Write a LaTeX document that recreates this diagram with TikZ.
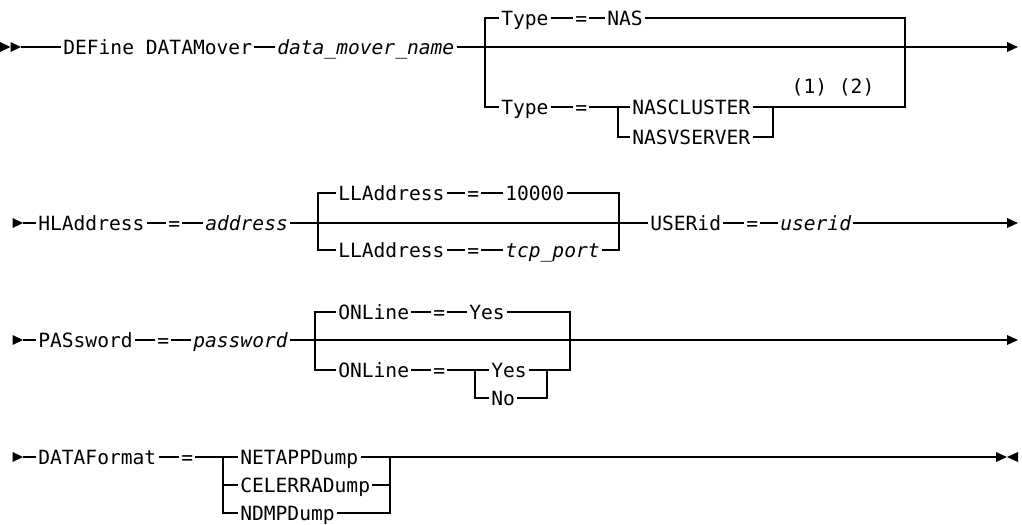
\documentclass[tikz,border=0pt]{standalone}
\usepackage{fontspec}
\setmonofont{DejaVu Sans Mono}

\begin{document}
\begin{tikzpicture}[
  x=0.75pt, y=-0.75pt,
  kw/.style={anchor=west, inner xsep=1.5pt, inner ysep=0pt, text height=10.7pt, text depth=0pt,
    font=\ttfamily\fontsize{14.7pt}{17pt}\selectfont},
  var/.style={kw, font=\ttfamily\itshape\fontsize{14.7pt}{17pt}\selectfont},
  rail/.style={draw=black, line width=0.9pt},
  tri/.style={fill=black}
]
  \useasboundingbox (0,0) rectangle (1022,525);

  % Puntas de inicio y de fin
  \fill[tri] (10.5,47) -- ++(-10.5,-5) -- ++(0,10) -- cycle;
  \fill[tri] (21,47) -- ++(-10.5,-5) -- ++(0,10) -- cycle;
  \foreach \y in {223,340,457} {
    \fill[tri] (23,\y) -- ++(-10.5,-5) -- ++(0,10) -- cycle;
  }
  \foreach \y in {47,223,340} {
    \fill[tri] (1018,\y) -- ++(-11,-5) -- ++(0,10) -- cycle;
  }
  \fill[tri] (1007,457) -- ++(-11,-5) -- ++(0,10) -- cycle;
  \fill[tri] (1007,457) -- ++(11,-5) -- ++(0,10) -- cycle;

  % Fila 1: DEFine DATAMover
  \coordinate (r1s) at (21,47);
  \coordinate (r1a) at (485,47);
  \coordinate (r1b) at (905,47);
  \coordinate (r1e) at (1008,47);
  \node[kw] (define) at (61,47) {DEFine DATAMover};
  \node[var] (dmname) at (275,47) {data\_mover\_name};
  \node[kw] (typeup) at (499,18) {Type};
  \node[kw] (equp) at (573,18) {=};
  \node[kw] (nas) at (605,18) {NAS};
  \node[kw] (typelo) at (499,107) {Type};
  \node[kw] (eqlo) at (573,107) {=};
  \coordinate (c1a) at (618,107);
  \coordinate (c1b) at (773,107);
  \node[kw] (nascl) at (630,107) {NASCLUSTER};
  \node[kw] (nasvs) at (630,137) {NASVSERVER};
  \node[kw, anchor=center] (notes) at (833,86) {(1) (2)};

  \draw[rail] (r1s) -- (define) -- (dmname) -- (r1e);
  \draw[rail] (r1a) |- (typeup) -- (equp) -- (nas) -| (r1b);
  \draw[rail] (r1a) |- (typelo) -- (eqlo) -- (c1a) -- (nascl) -- (c1b) -| (r1b);
  \draw[rail] (c1a) |- (nasvs) -| (c1b);

  % Fila 2: HLAddress, LLAddress, USERid
  \coordinate (r2s) at (23,223);
  \coordinate (r2a) at (318,223);
  \coordinate (r2b) at (619,223);
  \coordinate (r2e) at (1008,223);
  \node[kw] (hla) at (36,223) {HLAddress};
  \node[kw] (eqhla) at (166,223) {=};
  \node[var] (addr) at (203,223) {address};
  \node[kw] (llaup) at (336,193) {LLAddress};
  \node[kw] (eqllaup) at (465,193) {=};
  \node[kw] (port) at (503,193) {10000};
  \node[kw] (llalo) at (336,250) {LLAddress};
  \node[kw] (eqllalo) at (465,250) {=};
  \node[var] (tcpport) at (503,250) {tcp\_port};
  \node[kw] (usr) at (648,223) {USERid};
  \node[kw] (equsr) at (744,223) {=};
  \node[var] (userid) at (778,223) {userid};

  \draw[rail] (r2s) -- (hla) -- (eqhla) -- (addr) -- (usr) -- (equsr) -- (userid) -- (r2e);
  \draw[rail] (r2a) |- (llaup) -- (eqllaup) -- (port) -| (r2b);
  \draw[rail] (r2a) |- (llalo) -- (eqllalo) -- (tcpport) -| (r2b);

  % Fila 3: PASsword, ONLine
  \coordinate (r3s) at (23,340);
  \coordinate (r3a) at (315,340);
  \coordinate (r3b) at (570,340);
  \coordinate (r3e) at (1008,340);
  \coordinate (c3a) at (475,370);
  \coordinate (c3b) at (547,370);
  \node[kw] (pas) at (36,340) {PASsword};
  \node[kw] (eqpas) at (155,340) {=};
  \node[var] (pwd) at (191,340) {password};
  \node[kw] (onlup) at (336,312) {ONLine};
  \node[kw] (eqonlup) at (431,312) {=};
  \node[kw] (yesup) at (467,312) {Yes};
  \node[kw] (onllo) at (336,370) {ONLine};
  \node[kw] (eqonllo) at (431,370) {=};
  \node[kw] (yeslo) at (489,370) {Yes};
  \node[kw] (no) at (489,398) {No};

  \draw[rail] (r3s) -- (pas) -- (eqpas) -- (pwd) -- (r3e);
  \draw[rail] (r3a) |- (onlup) -- (eqonlup) -- (yesup) -| (r3b);
  \draw[rail] (r3a) |- (onllo) -- (eqonllo) -- (c3a) -- (yeslo) -- (c3b) -| (r3b);
  \draw[rail] (c3a) |- (no) -| (c3b);

  % Fila 4: DATAFormat
  \coordinate (r4s) at (23,457);
  \coordinate (c4a) at (223,457);
  \coordinate (c4b) at (390,457);
  \coordinate (r4e) at (997,457);
  \node[kw] (dataf) at (36,457) {DATAFormat};
  \node[kw] (eqdataf) at (179,457) {=};
  \node[kw] (netapp) at (238,457) {NETAPPDump};
  \node[kw] (celerra) at (238,485) {CELERRADump};
  \node[kw] (ndmp) at (238,513) {NDMPDump};

  \draw[rail] (r4s) -- (dataf) -- (eqdataf) -- (c4a) -- (netapp) -- (c4b) -- (r4e);
  \draw[rail] (c4a) |- (celerra) -| (c4b);
  \draw[rail] (c4a) |- (ndmp) -| (c4b);
\end{tikzpicture}
\end{document}
